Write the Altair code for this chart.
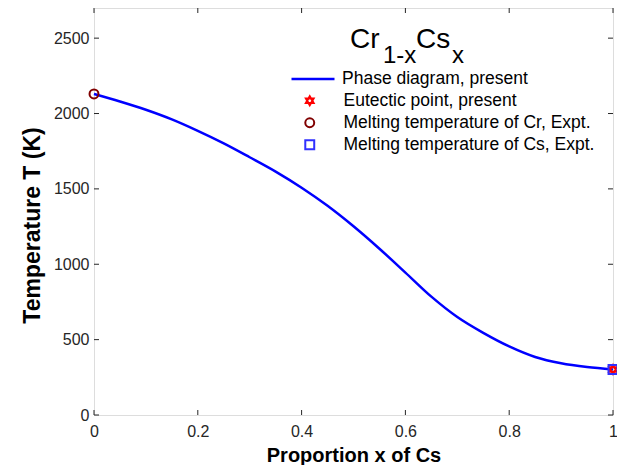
import altair as alt
import pandas as pd

# ---- data ----
x_vals = [0.0, 0.05, 0.1, 0.15, 0.2, 0.25, 0.3, 0.35, 0.4, 0.45, 0.5,
          0.55, 0.6, 0.65, 0.7, 0.75, 0.8, 0.85, 0.9, 0.95, 1.0]
t_vals = [2130, 2080, 2025, 1961, 1885, 1802, 1710, 1615, 1508, 1388, 1252,
          1103, 945, 785, 650, 545, 455, 385, 343, 318, 302]

line_name = "Phase diagram, present"
point_series = ["Eutectic point, present", "Melting temperature of Cr, Expt.",
                "Melting temperature of Cs, Expt."]
point_x = [1.0, 0.0, 1.0]
point_t = [302, 2130, 302]

x_ticks = [0, 0.2, 0.4, 0.6, 0.8, 1.0]
y_ticks = [0, 500, 1000, 1500, 2000, 2500]

W, H = 519, 407
hexagram = "M0,-1L0.866,0.5L-0.866,0.5Z M0,1L0.866,-0.5L-0.866,-0.5Z"

line_df = pd.DataFrame({"x": x_vals, "T": t_vals, "series": line_name})
pt_df = pd.DataFrame({"x": point_x, "T": point_t, "mark": point_series})
xt_df = pd.DataFrame({"v": x_ticks})
yt_df = pd.DataFrame({"v": y_ticks})

xscale = alt.Scale(domain=[0, 1], nice=False)
yscale = alt.Scale(domain=[0, 2700], nice=False)

FONT = "Liberation Sans"

line_legend = alt.Legend(title=None, orient="none", legendX=196, legendY=48,
                         symbolType="stroke", symbolSize=1849, symbolStrokeWidth=2.5,
                         labelFontSize=17.5, labelFont=FONT, labelColor="#000000",
                         labelOffset=6, padding=0, labelLimit=400)
point_legend = alt.Legend(title=None, orient="none", legendX=207, legendY=84,
                          symbolStrokeWidth=2, symbolSize=80, labelFontSize=17.5,
                          labelFont=FONT, labelColor="#000000", labelOffset=25,
                          rowPadding=3, padding=0, labelLimit=400)

x_axis = alt.Axis(values=x_ticks, format="~g", title="Proportion x of Cs",
                  ticks=False, domain=False, grid=False, labelFontSize=16,
                  labelFont=FONT, labelColor="#262626", labelPadding=8,
                  titleFont=FONT, titleFontSize=20, titleFontWeight="bold",
                  titleColor="#000000", titlePadding=6, labelFlush=False)
y_axis = alt.Axis(values=y_ticks, format="d", title="Temperature T (K)",
                  ticks=False, domain=False, grid=False, labelFontSize=16,
                  labelFont=FONT, labelColor="#262626", labelPadding=5,
                  titleFont=FONT, titleFontSize=23, titleFontWeight="bold",
                  titleColor="#000000", titlePadding=9, titleY=217, labelFlush=False)

curve = alt.Chart(line_df).mark_line(strokeWidth=2.5, interpolate="monotone").encode(
    x=alt.X("x:Q", scale=xscale, axis=x_axis),
    y=alt.Y("T:Q", scale=yscale, axis=y_axis),
    stroke=alt.Stroke("series:N", scale=alt.Scale(domain=[line_name], range=["#0000ff"]),
                      legend=line_legend),
)

points = alt.Chart(pt_df).mark_point(filled=False, strokeWidth=2, opacity=1, size=80).encode(
    x=alt.X("x:Q", scale=xscale),
    y=alt.Y("T:Q", scale=yscale),
    color=alt.Color("mark:N", scale=alt.Scale(domain=point_series,
                                              range=["#ff0000", "#800000", "#3030ff"]),
                    legend=point_legend),
    shape=alt.Shape("mark:N", scale=alt.Scale(domain=point_series,
                                              range=[hexagram, "circle", "square"]),
                    legend=point_legend),
)

tick_len = 5
xt_bot = alt.Chart(xt_df).mark_rule(color="#262626").encode(
    x=alt.X("v:Q", scale=xscale), y=alt.value(H), y2=alt.value(H - tick_len))
xt_top = alt.Chart(xt_df).mark_rule(color="#262626").encode(
    x=alt.X("v:Q", scale=xscale), y=alt.value(0), y2=alt.value(tick_len))
yt_left = alt.Chart(yt_df).mark_rule(color="#262626").encode(
    y=alt.Y("v:Q", scale=yscale), x=alt.value(0), x2=alt.value(tick_len))
yt_right = alt.Chart(yt_df).mark_rule(color="#262626").encode(
    y=alt.Y("v:Q", scale=yscale), x=alt.value(W), x2=alt.value(W - tick_len))


def ttext(s, px, py, size):
    return alt.Chart(pd.DataFrame({"t": [s]})).mark_text(
        align="left", baseline="alphabetic", fontSize=size, font=FONT,
        color="#000000").encode(text="t:N", x=alt.value(px), y=alt.value(py))


title_layers = [ttext("Cr", 256, 40, 28), ttext("1-x", 289, 55, 24),
                ttext("Cs", 322, 40, 28), ttext("x", 358, 55, 24)]

chart = alt.layer(xt_bot, xt_top, yt_left, yt_right, curve, points, *title_layers).properties(
    width=W, height=H,
    autosize=alt.AutoSizeParams(type="none"),
    padding={"left": 86, "top": 0, "right": 4, "bottom": 50},
).configure_view(stroke="#262626", strokeWidth=1).configure(background="white")

chart.save("out.html", embed_options={"renderer": "svg", "actions": False})
